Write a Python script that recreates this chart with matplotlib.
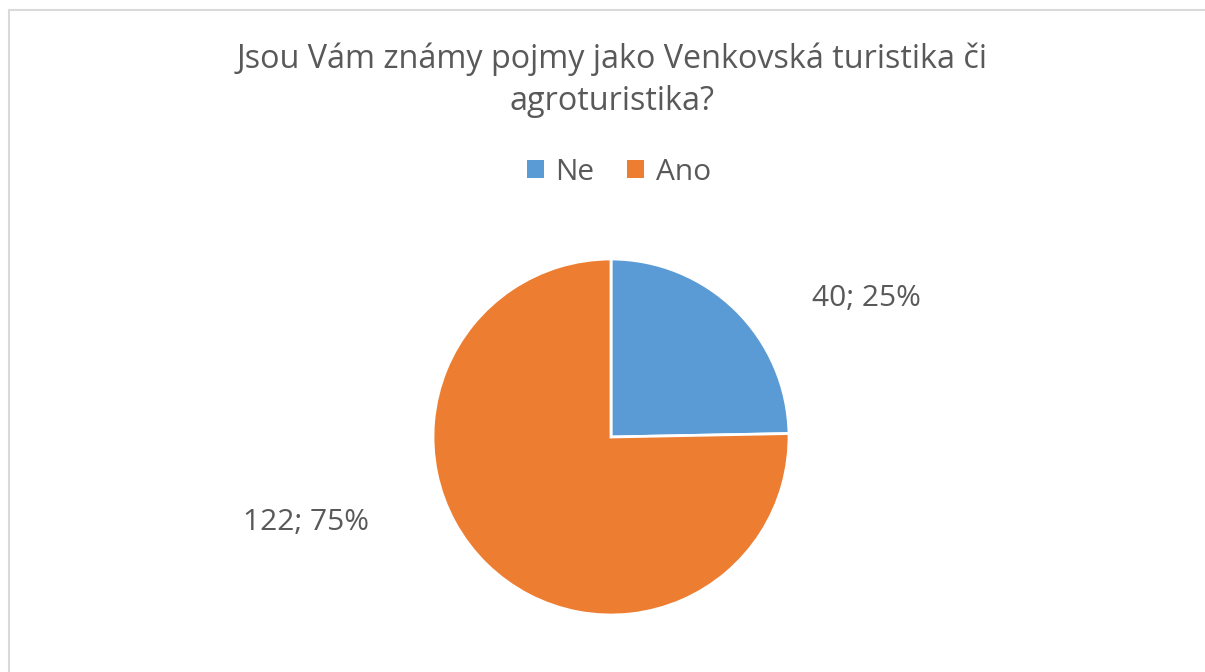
import matplotlib
matplotlib.use("Agg")
import matplotlib.pyplot as plt
from matplotlib.patches import Rectangle

title = "Jsou Vám známy pojmy jako Venkovská turistika či\nagroturistika?"
categories = ["Ne", "Ano"]
values = [40, 122]
percents = ["25%", "75%"]
colors = ["#5B9BD5", "#ED7D31"]
text_color = "#595959"

plt.rcParams['font.family'] = ['Open Sans', 'DejaVu Sans']

W, H = 1205, 672
fig = plt.figure(figsize=(W / 100, H / 100), dpi=100)

# outer border
fig.patches.append(Rectangle((9 / W, -0.05), 1.1, (H - 10) / H + 0.05, transform=fig.transFigure,
                             fill=False, edgecolor="#D9D9D9", linewidth=1.5))

cx, cy, r = 611, 437, 178
ax = fig.add_axes([(cx - r) / W, (H - cy - r) / H, 2 * r / W, 2 * r / H])
wedges, _ = ax.pie(values, colors=colors, startangle=90, counterclock=False,
                   wedgeprops=dict(edgecolor="white", linewidth=2.0))
ax.set_xlim(-1, 1)
ax.set_ylim(-1, 1)
ax.set_aspect("equal")
ax.axis("off")

labels = [f"{v}; {p}" for v, p in zip(values, percents)]
label_pos = [((866 - cx) / r, (cy - 298) / r), ((306 - cx) / r, (cy - 522) / r)]
for lab, (lx, ly) in zip(labels, label_pos):
    ax.text(lx, ly, lab, ha="center", va="center", fontsize=21.5, color=text_color, clip_on=False)

fig.text(612 / W, 1 - 110 / H, title, ha="center", va="baseline", fontsize=23.3,
         color=text_color, linespacing=1.36)

leg = fig.legend(wedges, categories, loc="center", bbox_to_anchor=(619 / W, 1 - 172 / H),
                 ncol=2, frameon=False, fontsize=21.5, labelcolor=text_color,
                 handlelength=0.55, handleheight=0.55, handletextpad=0.4, columnspacing=1.1)
for h in leg.legend_handles:
    h.set_edgecolor("none")

fig.savefig("out.png", dpi=100, facecolor="white")
